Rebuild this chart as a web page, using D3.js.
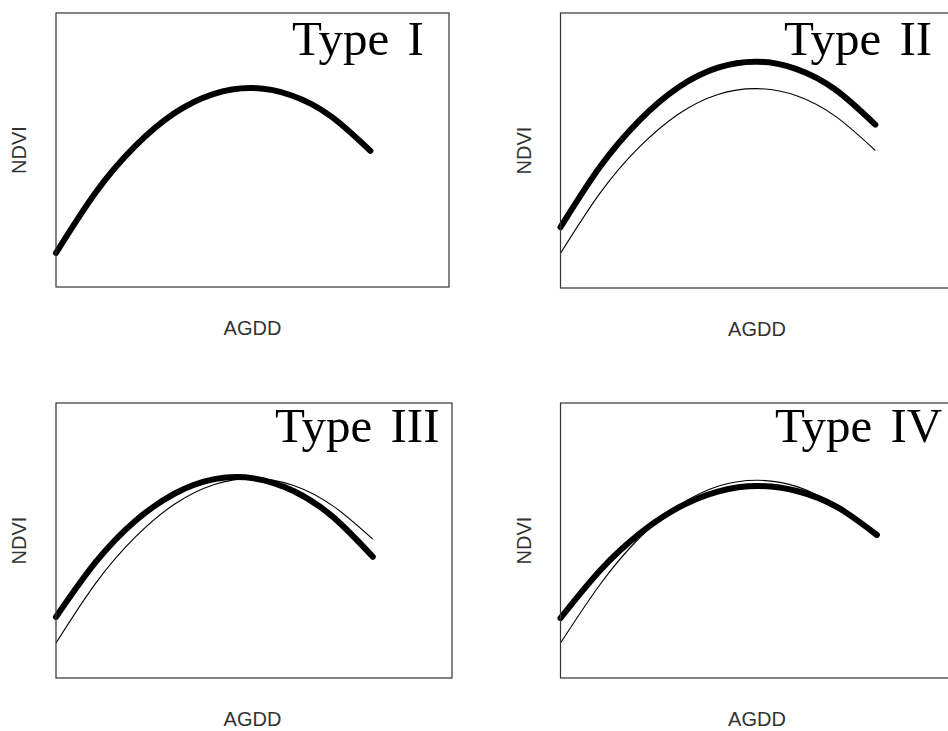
<!DOCTYPE html>
<html>
<head>
<meta charset="utf-8">
<script src="https://cdn.jsdelivr.net/npm/d3@7"></script>
<style>
  body { margin: 0; background: #fff; }
  .title { font-family: 'Liberation Serif', 'Times New Roman', serif; font-size: 49px; word-spacing: 6px; fill: #000; }
  .axlab { font-family: 'Liberation Sans', Arial, sans-serif; font-size: 20px; fill: #333; }
</style>
</head>
<body>
<script>
// AGDD positions (share of the axis, 0-100) where the curves were read
const agdd = [0, 10, 20, 30, 40, 50, 60, 70, 80];

// NDVI (0-1 over the plot height)
const typeIThick   = [0.124, 0.343, 0.512, 0.633, 0.704, 0.726, 0.699, 0.623, 0.497];
const typeIIThick  = [0.221, 0.440, 0.609, 0.730, 0.801, 0.823, 0.796, 0.720, 0.594];
const typeIIThin   = [0.126, 0.344, 0.512, 0.633, 0.704, 0.725, 0.699, 0.623, 0.500];
const typeIIIThick = [0.222, 0.421, 0.571, 0.671, 0.723, 0.726, 0.680, 0.585, 0.441];
const typeIIIThin  = [0.127, 0.344, 0.512, 0.633, 0.704, 0.726, 0.700, 0.625, 0.505];
const typeIVThick  = [0.218, 0.391, 0.525, 0.621, 0.679, 0.698, 0.679, 0.621, 0.520];
const typeIVThin   = [0.127, 0.340, 0.510, 0.628, 0.698, 0.719, 0.695, 0.622, 0.512];

const titles = ['Type I', 'Type II', 'Type III', 'Type IV'];

// panel frames on the page
const panels = [
  {x0: 56,    x1: 449, y0: 13,  y1: 287, tx: 292, ty: 55,  thick: typeIThick,   thin: null},
  {x0: 560.5, x1: 954, y0: 13,  y1: 288, tx: 784, ty: 55,  thick: typeIIThick,  thin: typeIIThin},
  {x0: 56,    x1: 452, y0: 403, y1: 678, tx: 275, ty: 442, thick: typeIIIThick, thin: typeIIIThin},
  {x0: 560.5, x1: 956, y0: 403, y1: 678, tx: 775, ty: 442, thick: typeIVThick,  thin: typeIVThin}
];

const svg = d3.select('body')
  .append('svg')
  .attr('width', 948)
  .attr('height', 731);

panels.forEach((p, i) => {
  const x = d3.scaleLinear().domain([0, 100]).range([p.x0, p.x1]);
  const y = d3.scaleLinear().domain([0, 1]).range([p.y1, p.y0]);

  const line = d3.line()
    .x(d => x(d[0]))
    .y(d => y(d[1]))
    .curve(d3.curveNatural);

  const g = svg.append('g').attr('class', 'panel');

  if (p.thin) {
    g.append('path')
      .datum(d3.zip(agdd, p.thin))
      .attr('d', line)
      .attr('fill', 'none')
      .attr('stroke', '#000')
      .attr('stroke-width', 1.1);
  }

  g.append('path')
    .datum(d3.zip(agdd, p.thick))
    .attr('d', line)
    .attr('fill', 'none')
    .attr('stroke', '#000')
    .attr('stroke-width', 6)
    .attr('stroke-linecap', 'round');

  // frame
  g.append('rect')
    .attr('x', p.x0)
    .attr('y', p.y0)
    .attr('width', p.x1 - p.x0)
    .attr('height', p.y1 - p.y0)
    .attr('fill', 'none')
    .attr('stroke', '#333')
    .attr('stroke-width', 1.2);

  g.append('text')
    .attr('class', 'title')
    .attr('x', p.tx)
    .attr('y', p.ty)
    .text(titles[i]);

  g.append('text')
    .attr('class', 'axlab')
    .attr('x', (p.x0 + 393 / 2))
    .attr('y', p.y1 + 48)
    .attr('text-anchor', 'middle')
    .text('AGDD');

  g.append('text')
    .attr('class', 'axlab')
    .attr('transform', `translate(${p.x0 - 30},${(p.y0 + p.y1) / 2}) rotate(-90)`)
    .attr('text-anchor', 'middle')
    .text('NDVI');
});
</script>
</body>
</html>
